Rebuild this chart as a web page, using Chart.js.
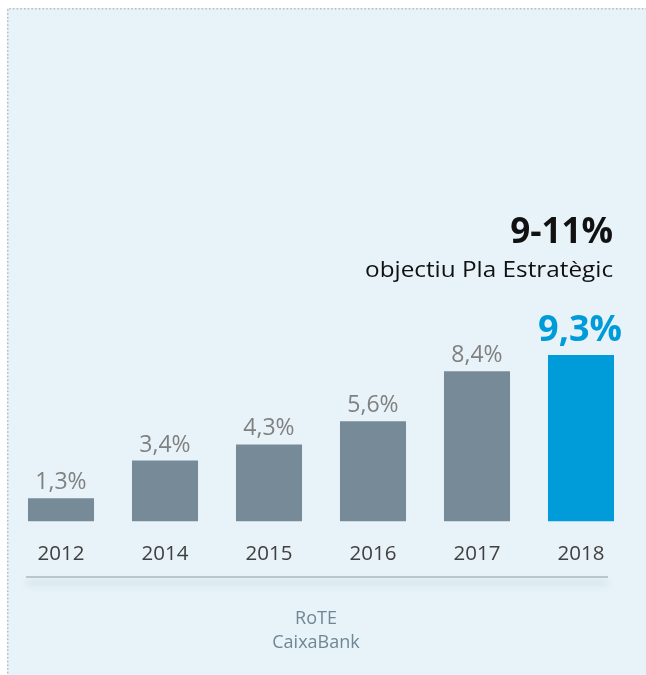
<!DOCTYPE html>
<html>
<head>
<meta charset="utf-8">
<script src="https://cdn.jsdelivr.net/npm/chart.js@4.4.1/dist/chart.umd.min.js"></script>
<style>
html,body{margin:0;padding:0;background:#ffffff;}
#wrap{position:relative;width:646px;height:675px;}
</style>
</head>
<body>
<div id="wrap"><canvas id="c" width="646" height="675"></canvas></div>
<script>
const years = ["2012", "2014", "2015", "2016", "2017", "2018"];
const rote = [1.3, 3.4, 4.3, 5.6, 8.4, 9.3];
const valueLabels = ["1,3%", "3,4%", "4,3%", "5,6%", "8,4%", "9,3%"];
const targetLabel = "9-11%";
const targetCaption = "objectiu Pla Estratègic";
const footerLines = ["RoTE", "CaixaBank"];

const GRAY = "#768b97";
const BLUE = "#009bd9";
const FONT = "'Open Sans', 'Noto Sans', sans-serif";

const decor = {
  id: "decor",
  beforeDraw(chart) {
    const ctx = chart.ctx;
    ctx.save();
    ctx.fillStyle = "#ffffff";
    ctx.fillRect(0, 0, chart.width, chart.height);
    ctx.fillStyle = "#e8f3f9";
    ctx.fillRect(7, 8, chart.width, chart.height);
    ctx.strokeStyle = "#b0bcc3";
    ctx.lineWidth = 1.5;
    ctx.setLineDash([1.5, 2.2]);
    ctx.beginPath();
    ctx.moveTo(7.75, chart.height + 2);
    ctx.lineTo(7.75, 8.75);
    ctx.lineTo(chart.width + 2, 8.75);
    ctx.stroke();
    ctx.restore();
  },
  afterDatasetsDraw(chart) {
    const ctx = chart.ctx;
    const meta = chart.getDatasetMeta(0);
    ctx.save();
    // value labels
    meta.data.forEach((bar, i) => {
      ctx.textAlign = "center";
      ctx.textBaseline = "alphabetic";
      if (i === meta.data.length - 1) {
        ctx.font = "bold 36px " + FONT;
        ctx.fillStyle = BLUE;
        ctx.fillText(valueLabels[i], bar.x - 1, bar.y - 14);
      } else {
        ctx.font = "23px " + FONT;
        ctx.fillStyle = "#808080";
        ctx.fillText(valueLabels[i], bar.x, bar.y - 9);
      }
    });
    // target annotation
    const last = meta.data[meta.data.length - 1];
    const rightX = last.x + last.width / 2 - 1;
    ctx.textAlign = "right";
    ctx.fillStyle = "#111111";
    ctx.font = "bold 35px " + FONT;
    ctx.fillText(targetLabel, rightX, 243);
    ctx.font = "21px " + FONT;
    const w = ctx.measureText(targetCaption).width;
    const sx = 248 / w;
    ctx.save();
    ctx.translate(rightX, 277);
    ctx.scale(sx, 1);
    ctx.fillText(targetCaption, 0, 0);
    ctx.restore();
    // axis line with shadow
    ctx.save();
    ctx.strokeStyle = "#bac6cd";
    ctx.lineWidth = 2;
    ctx.shadowColor = "rgba(110,135,150,0.35)";
    ctx.shadowBlur = 7;
    ctx.shadowOffsetY = 6;
    ctx.beginPath();
    ctx.moveTo(26, 577);
    ctx.lineTo(608, 577);
    ctx.stroke();
    ctx.restore();
    // footer
    ctx.textAlign = "center";
    ctx.fillStyle = "#6f8795";
    ctx.font = "18px " + FONT;
    ctx.fillText(footerLines[0], 316, 624);
    ctx.fillText(footerLines[1], 316, 648);
    ctx.restore();
  }
};

new Chart(document.getElementById("c"), {
  type: "bar",
  data: {
    labels: years,
    datasets: [{
      data: rote,
      backgroundColor: rote.map((v, i) => i === rote.length - 1 ? BLUE : GRAY),
      borderWidth: 0,
      categoryPercentage: 1,
      barPercentage: 0.635
    }]
  },
  options: {
    responsive: false,
    animation: false,
    devicePixelRatio: 1,
    layout: { padding: { left: 9, right: 13, top: 271, bottom: 89 } },
    plugins: { legend: { display: false }, tooltip: { enabled: false } },
    scales: {
      x: {
        grid: { display: false, drawTicks: false },
        border: { display: false },
        ticks: {
          color: "#404040",
          padding: 20,
          font: { family: FONT, size: 20.5, lineHeight: 1.2 }
        }
      },
      y: { display: false, min: 0, max: 14 }
    }
  },
  plugins: [decor]
});
</script>
</body>
</html>
